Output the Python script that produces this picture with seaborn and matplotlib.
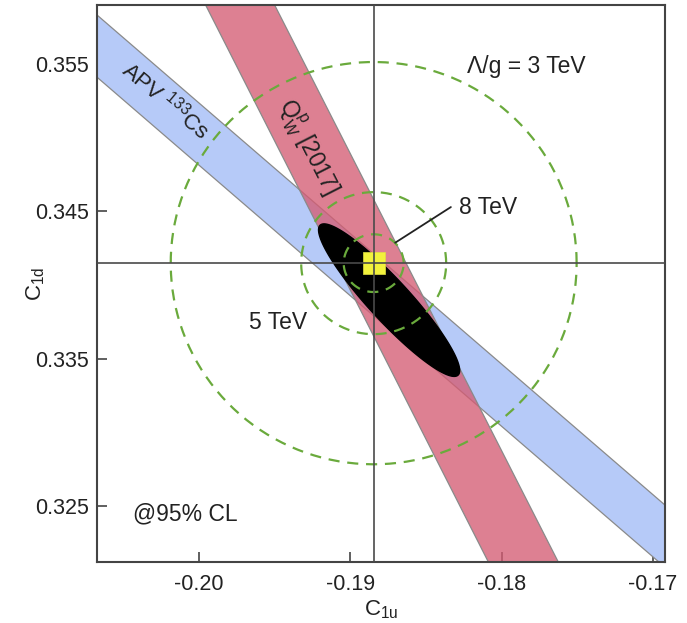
import numpy as np
import pandas as pd
import matplotlib
matplotlib.use("Agg")
import matplotlib.pyplot as plt
import seaborn as sns

# Standard Model point (crosshair + yellow square)
sm_c1u = -0.18846
sm_c1d = 0.34149

# APV 133Cs band: edges given at two C1u values
apv_c1u = [-0.210, -0.165]
apv_upper = [0.36122, 0.32134]
apv_lower = [0.35700, 0.31712]

# Qweak 2017 band: edges given at two C1d values
qw_c1d = [0.35909, 0.32099]
qw_left = [-0.19962, -0.18079]
qw_right = [-0.19506, -0.17617]

# combined fit ellipse (center, semi-major, semi-minor vectors)
ell_center = (-0.18744, 0.33898)
ell_major = (0.004555, -0.00509)
ell_minor = (0.00100, 0.00094)

# Lambda/g contours around SM point
contour_labels = ["3 TeV", "5 TeV", "8 TeV"]
contour_rx = [0.01341, 0.00479, 0.00198]
contour_ry = [0.01365, 0.00482, 0.00196]

x_ticks = [-0.20, -0.19, -0.18, -0.17]
x_ticklabels = ["-0.20", "-0.19", "-0.18", "-0.17"]
y_ticks = [0.325, 0.335, 0.345, 0.355]
y_ticklabels = ["0.325", "0.335", "0.345", "0.355"]

sns.set_theme(style="ticks")
plt.rcParams['font.family'] = ['Liberation Sans', 'DejaVu Sans']
plt.rcParams['mathtext.default'] = 'regular'
plt.rcParams['axes.unicode_minus'] = False

fig = plt.figure(figsize=(6.87, 6.23), dpi=100)
ax = fig.add_axes([0.1412, 0.0984, 0.8268, 0.8936])

# bands
ax.fill_between(apv_c1u, apv_lower, apv_upper, facecolor='#b6caf8',
                edgecolor='#8a8a8a', linewidth=0.9, zorder=1)
ax.fill_betweenx(qw_c1d, qw_left, qw_right, facecolor=(0.83, 0.36, 0.45, 0.78),
                 edgecolor='#8a8a8a', linewidth=0.9, zorder=2)

# combined ellipse
t = np.linspace(0, 2 * np.pi, 300)
ex = ell_center[0] + ell_major[0] * np.cos(t) + ell_minor[0] * np.sin(t)
ey = ell_center[1] + ell_major[1] * np.cos(t) + ell_minor[1] * np.sin(t)
ax.fill(ex, ey, color='black', zorder=3)

# dashed contours
for rx, ry in zip(contour_rx, contour_ry):
    cdf = pd.DataFrame({'x': sm_c1u + rx * np.cos(t), 'y': sm_c1d + ry * np.sin(t)})
    sns.lineplot(data=cdf, x='x', y='y', sort=False, estimator=None, ax=ax,
                 color='#6aaa3c', linewidth=1.6, linestyle=(0, (5, 3.5)), zorder=4)

# SM point
sns.scatterplot(x=[sm_c1u], y=[sm_c1d], marker='s', s=270, color='#f2f23c',
                edgecolor='#e0e040', linewidth=0.5, ax=ax, zorder=5)
ax.axvline(sm_c1u, color='#4a4a4a', linewidth=1.2, zorder=6)
ax.axhline(sm_c1d, color='#4a4a4a', linewidth=1.2, zorder=6)

# annotations
ax.text(0.755, 0.890, "\u039b/g = " + contour_labels[0], transform=ax.transAxes,
        ha='center', va='center', fontsize=16.5, color='#222222')
ax.text(0.638, 0.637, contour_labels[2], transform=ax.transAxes,
        ha='left', va='center', fontsize=16.5, color='#222222')
ax.plot([0.525, 0.623], [0.573, 0.637], transform=ax.transAxes,
        color='#222222', linewidth=1.3, zorder=7)
ax.text(0.319, 0.429, contour_labels[1], transform=ax.transAxes,
        ha='center', va='center', fontsize=16.5, color='#222222')
ax.text(0.155, 0.086, "@95% CL", transform=ax.transAxes,
        ha='center', va='center', fontsize=16.5, color='#222222')
ax.text(0.122, 0.828, "APV $^{133}$Cs", transform=ax.transAxes, rotation=-40,
        ha='center', va='center', fontsize=16, color='#222222',
        rotation_mode='anchor')
ax.text(0.371, 0.745, "Q$_W^p$ [2017]", transform=ax.transAxes, rotation=-63,
        ha='center', va='center', fontsize=16.5, color='#222222',
        rotation_mode='anchor')

ax.set_xlim(-0.20674, -0.16921)
ax.set_ylim(0.32123, 0.35901)
ax.set_xticks(x_ticks)
ax.set_xticklabels(x_ticklabels)
ax.set_yticks(y_ticks)
ax.set_yticklabels(y_ticklabels)
ax.tick_params(direction='in', length=7, width=1.2, color='#444444',
               labelsize=15.5, labelcolor='#222222')
ax.tick_params(axis='x', pad=9)
ax.tick_params(axis='y', pad=6)
for sp in ax.spines.values():
    sp.set_linewidth(1.5)
    sp.set_color('#444444')
ax.set_xlabel("C$_{1u}$", fontsize=16, color='#222222', labelpad=2)
ax.set_ylabel("C$_{1d}$", fontsize=16, color='#222222', labelpad=-9)

plt.savefig('out.png', dpi=100)
plt.close()
